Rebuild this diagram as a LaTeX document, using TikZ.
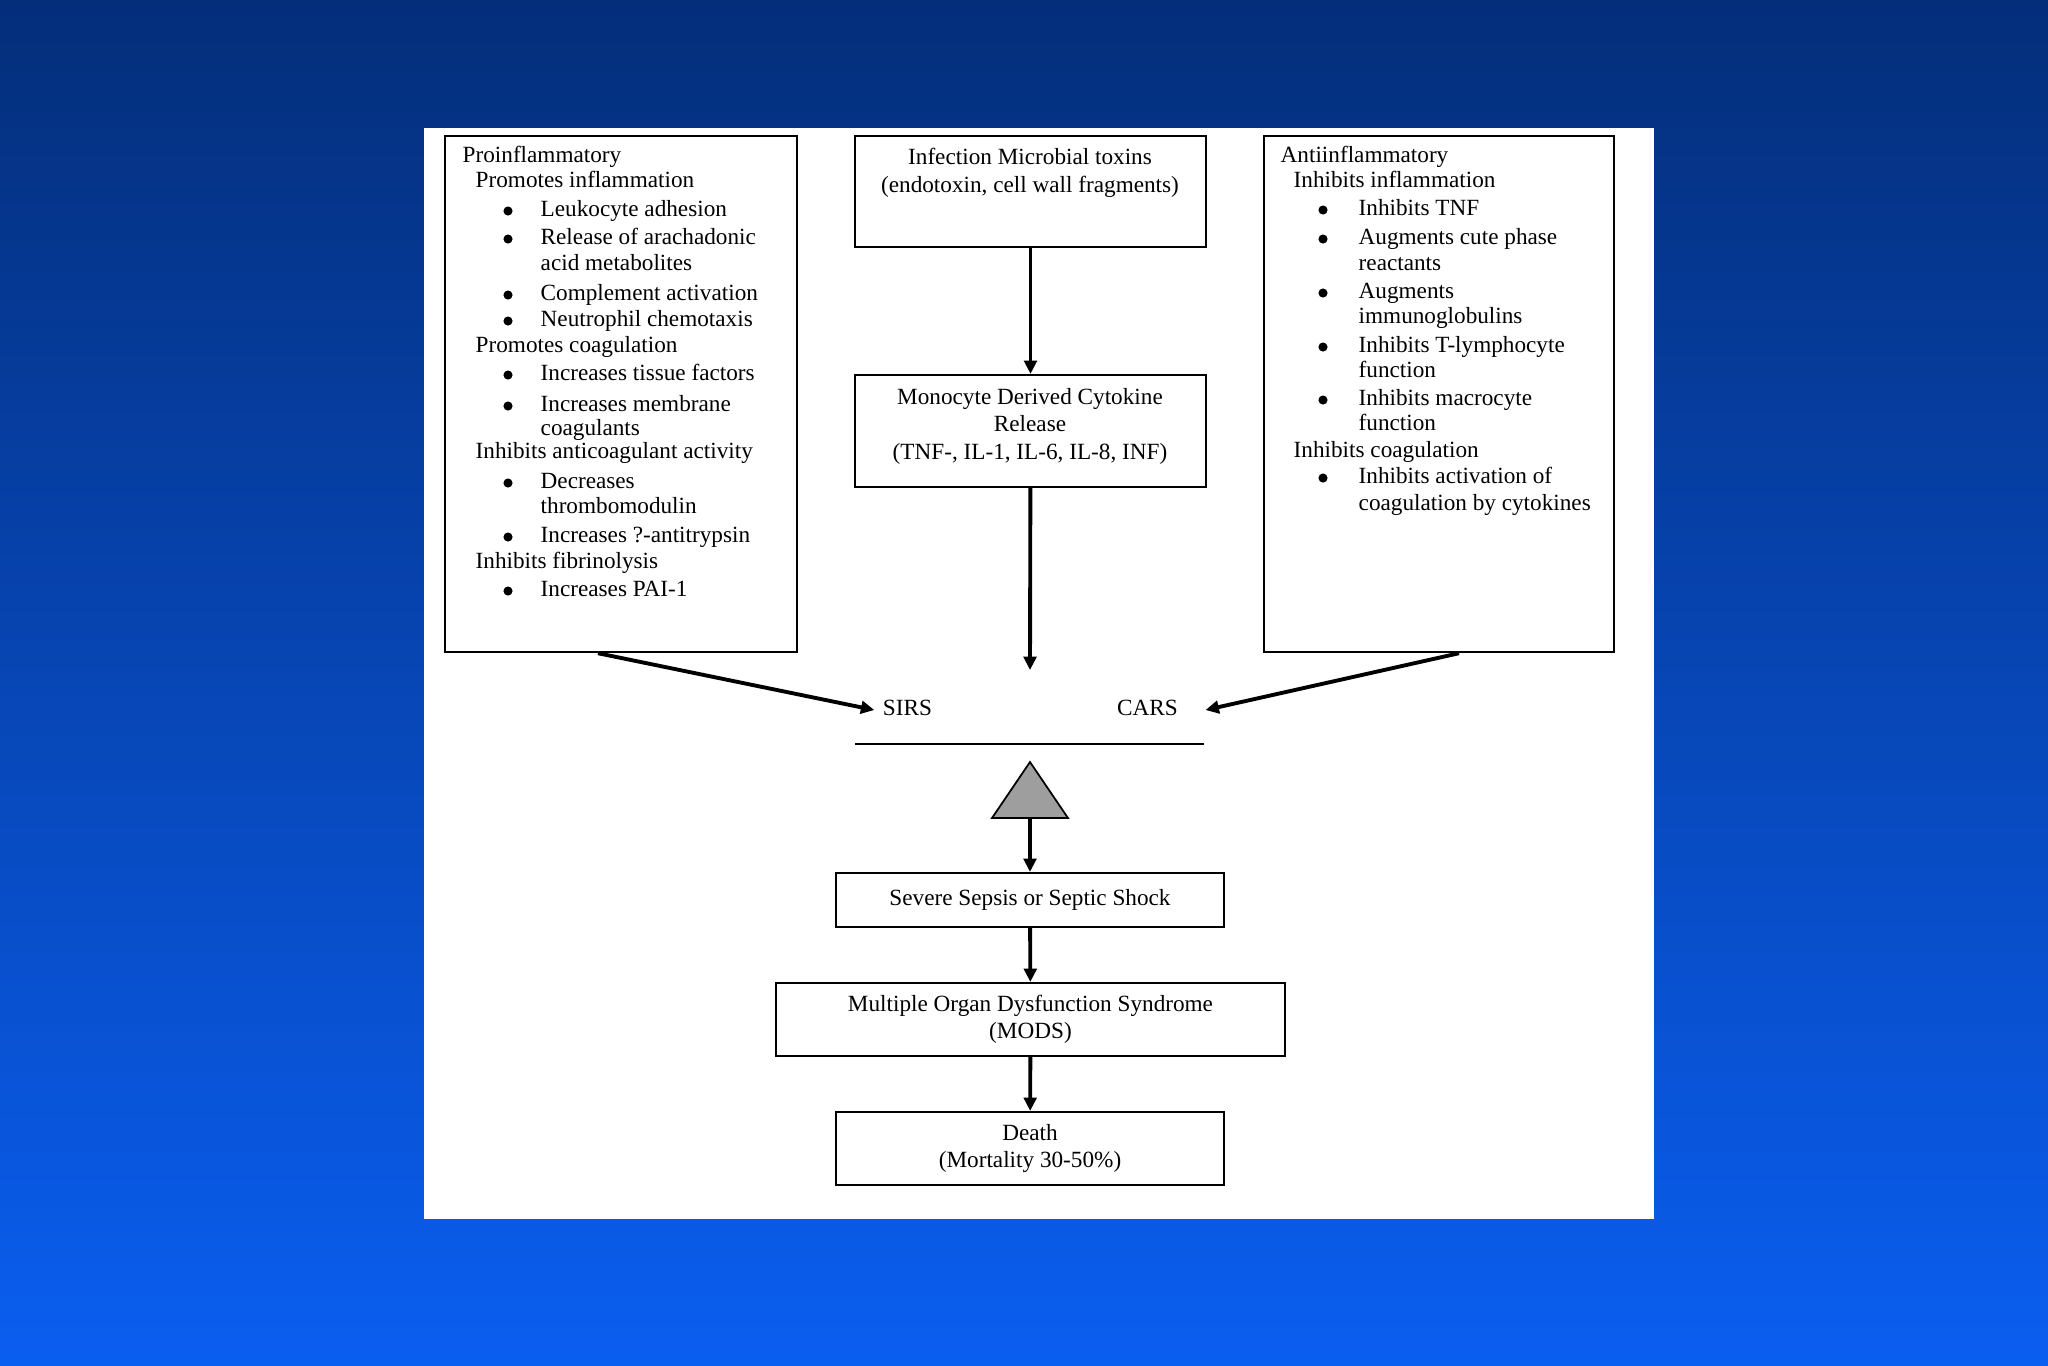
\documentclass[tikz,border=0pt]{standalone}
\usepackage{fontspec}
\setmainfont{Liberation Serif}
\usetikzlibrary{arrows.meta}
\definecolor{slidetop}{RGB}{4,46,122}
\definecolor{slidebot}{RGB}{10,94,240}
\tikzset{
  box/.style={draw, line width=.6pt, fill=white, inner sep=0pt, align=center, font=\fontsize{6.6}{7.8}\selectfont},
  txt/.style={anchor=west, inner sep=0pt, text height=4.5pt, text depth=1.4pt, font=\fontsize{6.6}{7.2}\selectfont},
  lbl/.style={inner sep=0pt, text height=4.5pt, text depth=1.4pt, font=\fontsize{6.6}{7.2}\selectfont},
  dot/.style={circle, fill, inner sep=0pt, minimum size=2.6pt},
  flow/.style={->, line width=1.1pt}
}

\begin{document}
\begin{tikzpicture}[x=0.01cm, y=-0.01cm, >={Triangle[length=3.8pt, width=3.6pt]}]
\shade[top color=slidetop, bottom color=slidebot](0,0) rectangle (2048,1365);
\fill[white](424,128) rectangle (1654,1219);

\node[box, minimum width=3.52cm, minimum height=5.16cm] (pro) at (621,394) {};
\node[box, minimum width=3.5cm, minimum height=5.16cm] (anti) at (1439,394) {};

\node[txt] (protitle) at (462,157) {Proinflammatory};
\foreach \y/\lbl [count=\i] in {182/Promotes inflammation, 347/Promotes coagulation, 453/Inhibits anticoagulant activity, 563/Inhibits fibrinolysis}
    \node[txt] (prohead\i) at (475,\y) {\lbl};
\foreach \y/\lbl [count=\i] in {211/Leukocyte adhesion, 239/Release of arachadonic, 295/Complement activation, 321/Neutrophil chemotaxis, 375/Increases tissue factors, 406/Increases membrane, 483/Decreases, 537/Increases ?-antitrypsin, 591/Increases PAI-1}
{
    \node[dot] (prodot\i) at (508,\y) {};
    \node[txt] (proitem\i) at (540,\y) {\lbl};
}
\foreach \y/\lbl [count=\i] in {265/acid metabolites, 430/coagulants, 508/thrombomodulin}
    \node[txt] (promore\i) at (540,\y) {\lbl};

\node[txt] (antititle) at (1280,157) {Antiinflammatory};
\foreach \y/\lbl [count=\i] in {182/Inhibits inflammation, 452/Inhibits coagulation}
    \node[txt] (antihead\i) at (1293,\y) {\lbl};
\foreach \y/\lbl [count=\i] in {210/Inhibits TNF, 239/Augments cute phase, 293/Augments, 347/Inhibits T-lymphocyte, 400/Inhibits macrocyte, 478/Inhibits activation of}
{
    \node[dot] (antidot\i) at (1323,\y) {};
    \node[txt] (antiitem\i) at (1358,\y) {\lbl};
}
\foreach \y/\lbl [count=\i] in {265/reactants, 318/immunoglobulins, 372/function, 425/function, 505/coagulation by cytokines}
    \node[txt] (antimore\i) at (1358,\y) {\lbl};

\node[box, minimum width=3.51cm, minimum height=1.11cm] (infect) at (1030.5,191.5) {};
\node[box, draw=none, fill=none] (infecttxt) at (1030,173) {Infection Microbial toxins\\(endotoxin, cell wall fragments)};
\node[box, minimum width=3.51cm, minimum height=1.12cm] (mono) at (1030.5,431) {};
\node[box, draw=none, fill=none] (monotxt) at (1030,426) {Monocyte Derived Cytokine\\Release\\(TNF-, IL-1, IL-6, IL-8, INF)};
\coordinate (balance) at (1030,670);
\draw[flow](infect) -- (mono);
\draw[flow](mono) -- (balance);

\node[lbl] (sirs) at (907.5,710) {SIRS};
\node[lbl] (cars) at (1147.5,710) {CARS};
\draw[flow]([xshift=-0.23cm]pro.south) -- ([xshift=-0.08cm]sirs.west);
\draw[flow]([xshift=0.2cm]anti.south) -- ([xshift=0.27cm]cars.east);

\draw[line width=.6pt](855,744) -- (1204,744);
\draw[line width=.5pt, fill=black!38](992,818) -- (1068,818) -- (1030,762) -- cycle;
\coordinate (pivot) at (1030,818);

\node[box, minimum width=3.88cm, minimum height=.54cm] (severe) at (1030,900) {Severe Sepsis or Septic Shock};
\node[box, minimum width=5.08cm, minimum height=.73cm] (mods) at (1030.5,1019.5) {Multiple Organ Dysfunction Syndrome\\(MODS)};
\node[box, minimum width=3.88cm, minimum height=.73cm] (death) at (1030,1148.5) {Death\\(Mortality 30-50\%)};
\draw[flow](pivot) -- (severe);
\draw[flow](severe) -- (mods);
\draw[flow](mods) -- (death);

\end{tikzpicture}
\end{document}
